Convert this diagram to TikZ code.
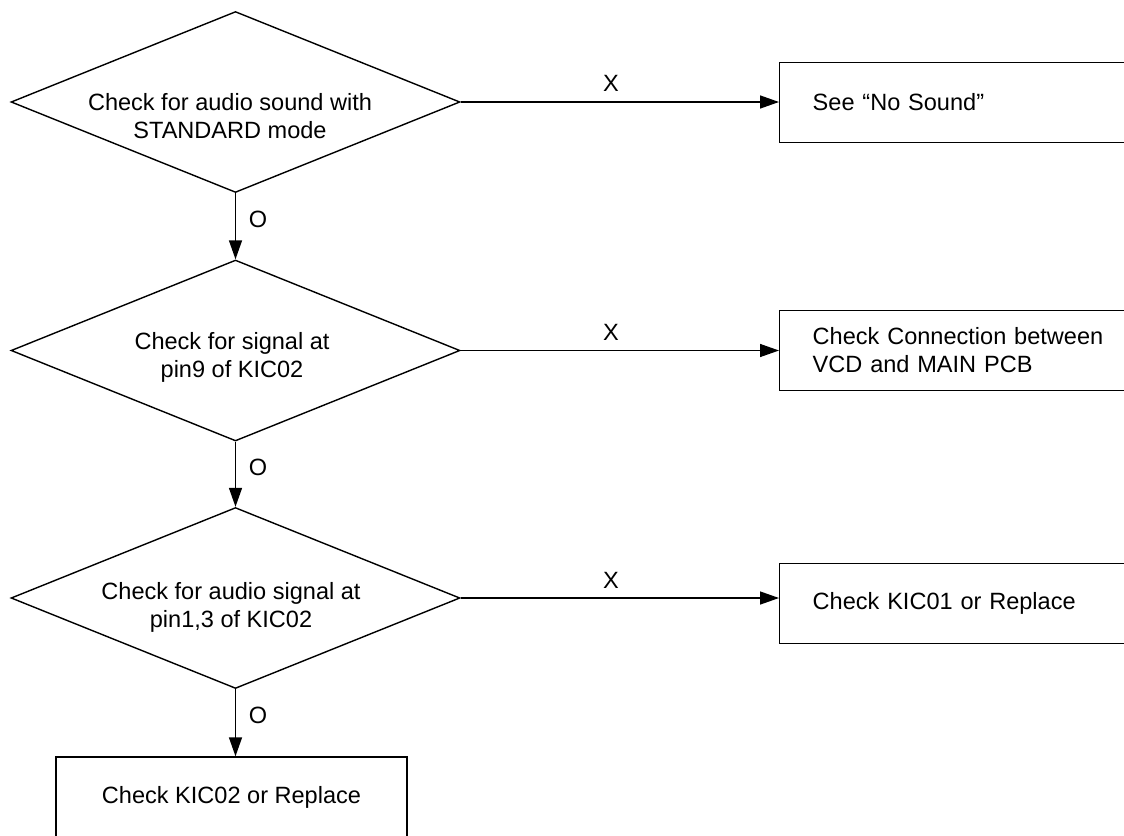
\documentclass[tikz,border=0pt]{standalone}
\usepackage{fontspec}
\setmainfont{Liberation Sans}
\usetikzlibrary{shapes.geometric,arrows.meta}
\begin{document}
\begin{tikzpicture}[x=0.02cm,y=-0.02cm,
  font=\fontsize{13.4}{15.9}\selectfont,
  line width=0.8pt,
  decision/.style={draw, diamond, minimum width=8.98cm, minimum height=3.62cm, inner sep=0pt},
  dtext/.style={align=center, inner sep=0pt},
  action/.style={draw, rectangle, minimum height=1.6cm, inner xsep=0.66cm, text width=6.5cm, align=left, anchor=west},
  endbox/.style={draw, rectangle, minimum height=1.6cm, minimum width=7.02cm, align=center},
  flow/.style={-{Triangle[length=0.38cm,width=0.26cm]}},
  lbl/.style={inner sep=0pt}]
\useasboundingbox (0,0) rectangle (1124,835);
\clip (0,0) rectangle (1124,835);

% decisions
\node[decision] (d1) at (235.5,102) {};
\node[dtext] (t1) at (230,116) {Check for audio sound with\\STANDARD mode};
\node[decision] (d2) at (235.5,350.5) {};
\node[dtext] (t2) at (232,357) {Check for signal at\\pin9 of KIC02};
\node[decision] (d3) at (235.5,598) {};
\node[dtext] (t3) at (231,607) {Check for audio signal at\\pin1,3 of KIC02};

% actions
\node[action] (b1) at (779,102.5) {See “No Sound”};
\node[action] (b2) at (779,350.5) {Check Connection between\\VCD and MAIN PCB};
\node[action] (b3) at (779,603.5) {Check KIC01 or Replace};
\node[endbox] (b4) at (231.5,797) {Check KIC02 or Replace};

% connectors
\draw[flow] (d1.south) -- (d2.north);
\draw[flow] (d2.south) -- (d3.north);
\draw[flow] (d3.south) -- (d3.south |- b4.north);
\draw[flow] (d1.east) -- (d1.east -| b1.west);
\draw[flow] (d2.east) -- (d2.east -| b2.west);
\draw[flow] (d3.east) -- (d3.east -| b3.west);

% labels
\node[lbl] (o1) at (258,219) {O};
\node[lbl] (o2) at (258,467) {O};
\node[lbl] (o3) at (258,715) {O};
\node[lbl] (x1) at (611,83) {X};
\node[lbl] (x2) at (611,332) {X};
\node[lbl] (x3) at (611,580) {X};
\end{tikzpicture}
\end{document}
